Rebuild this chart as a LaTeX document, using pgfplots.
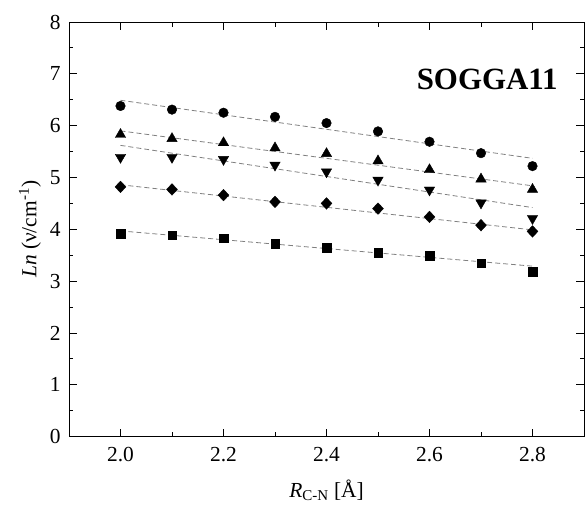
\documentclass[border=0pt]{standalone}
\usepackage{fontspec}
\setmainfont{Liberation Serif}
\usepackage{pgfplots}
\pgfplotsset{compat=1.18}

\begin{document}
\begin{tikzpicture}[x=1bp,y=1bp]
\begin{axis}[
  at={(0,0)}, anchor=south west,
  scale only axis,
  width=515bp, height=414.7bp,
  xmin=1.9, xmax=2.9, ymin=0, ymax=8,
  xtick={2.0,2.2,...,2.8},
  minor x tick num=1,
  ytick={0,1,...,8},
  minor y tick num=1,
  tick align=inside,
  major tick length=8bp,
  minor tick length=4.5bp,
  axis line style={line width=0.9bp},
  every tick/.style={line width=0.9bp, black},
  /pgf/number format/assume math mode=true,
  xticklabel style={/pgf/number format/fixed, /pgf/number format/fixed zerofill, /pgf/number format/precision=1, yshift=-7bp},
  yticklabel style={xshift=-5bp},
  tick label style={font=\fontsize{21.5}{24}\selectfont},
  label style={font=\fontsize{21.5}{24}\selectfont},
  xlabel={\textit{R}\textsubscript{C-N} [Å]},
  ylabel={\textit{Ln} (ν/cm\textsuperscript{-1})},
  xlabel style={at={(axis description cs:0.5,-0.129)}, anchor=center},
  ylabel style={at={(axis description cs:-0.0757,0.5)}, anchor=center},
  clip=false,
]
% fitted trends
\addplot[gray, line width=0.8bp, dash pattern=on 5bp off 3bp] coordinates {(2.0,6.49) (2.8,5.37)};
\addplot[gray, line width=0.8bp, dash pattern=on 5bp off 3bp] coordinates {(2.0,5.90) (2.8,4.84)};
\addplot[gray, line width=0.8bp, dash pattern=on 5bp off 3bp] coordinates {(2.0,5.62) (2.8,4.42)};
\addplot[gray, line width=0.8bp, dash pattern=on 5bp off 3bp] coordinates {(2.0,4.86) (2.8,3.99)};
\addplot[gray, line width=0.8bp, dash pattern=on 5bp off 3bp] coordinates {(2.0,3.97) (2.8,3.29)};
% computed values
\addplot[only marks, mark=*, mark size=4.8bp, black] coordinates {
  (2.0,6.38) (2.1,6.31) (2.2,6.25) (2.3,6.17) (2.4,6.05) (2.5,5.89) (2.6,5.69) (2.7,5.47) (2.8,5.22)};
\addplot[only marks, mark=triangle*, mark size=6bp, black] coordinates {
  (2.0,5.83) (2.1,5.75) (2.2,5.67) (2.3,5.57) (2.4,5.46) (2.5,5.32) (2.6,5.15) (2.7,4.97) (2.8,4.77)};
\addplot[only marks, mark=triangle*, mark size=6bp, mark options={rotate=180}, black] coordinates {
  (2.0,5.39) (2.1,5.39) (2.2,5.35) (2.3,5.24) (2.4,5.11) (2.5,4.95) (2.6,4.76) (2.7,4.51) (2.8,4.21)};
\addplot[only marks, mark=diamond*, mark size=5.8bp, mark options={xscale=1.25}, black] coordinates {
  (2.0,4.82) (2.1,4.77) (2.2,4.66) (2.3,4.53) (2.4,4.50) (2.5,4.40) (2.6,4.24) (2.7,4.08) (2.8,3.96)};
\addplot[only marks, mark=square*, mark size=4.3bp, black] coordinates {
  (2.0,3.92) (2.1,3.89) (2.2,3.83) (2.3,3.72) (2.4,3.65) (2.5,3.55) (2.6,3.49) (2.7,3.35) (2.8,3.18)};
\node[font=\bfseries\fontsize{31}{34}\selectfont] at (axis cs:2.712,6.89) {SOGGA11};
\end{axis}
\path[use as bounding box] (-69bp,-69.3bp) rectangle (517bp,436.7bp);
\end{tikzpicture}
\end{document}
